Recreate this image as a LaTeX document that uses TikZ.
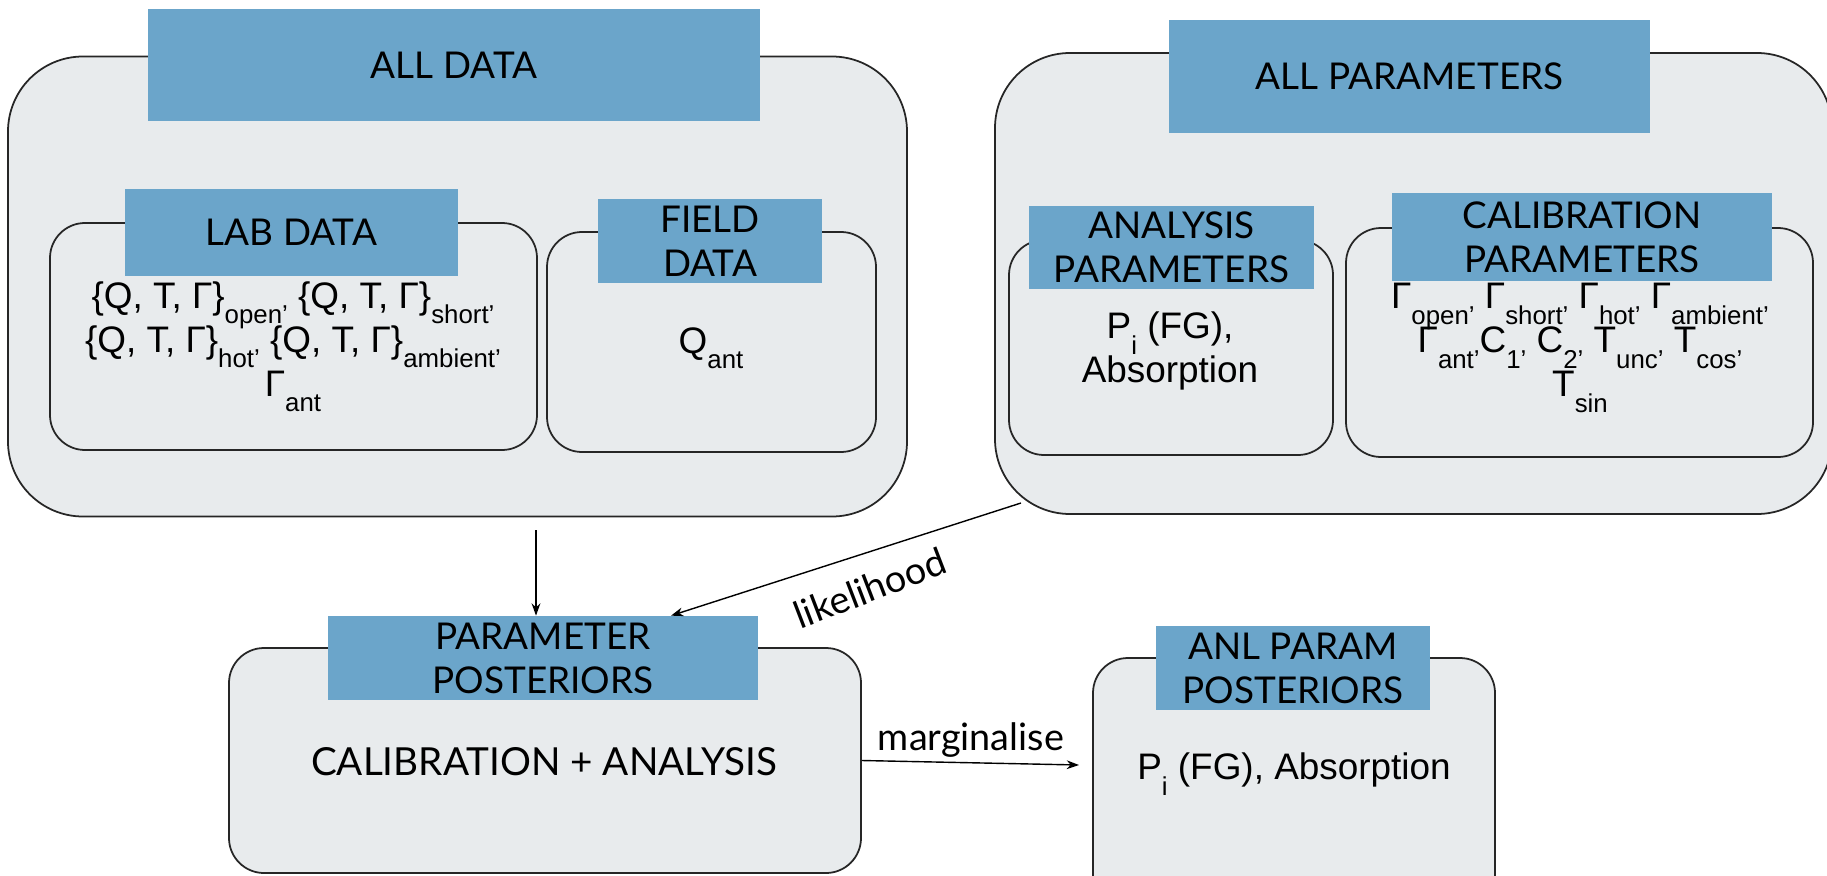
\documentclass[tikz,border=0pt]{standalone}
\usepackage{fontspec}
\setmainfont{Lato}
\newfontfamily\bodyfont{Liberation Sans}
\usepackage{graphicx}
\usetikzlibrary{arrows.meta,calc}
\definecolor{headblue}{HTML}{6BA5CA}
\definecolor{boxgrey}{HTML}{E8EBED}
\newcommand{\low}[1]{\raisebox{-0.42em}[0pt][0pt]{\scalebox{0.7}{#1}}}

\begin{document}
\begin{tikzpicture}[
  >={Stealth[length=7pt,width=5pt]},
  group/.style={draw=black!85, fill=boxgrey, line width=1pt, rounded corners=1.5cm, inner sep=0pt},
  panel/.style={draw=black!85, fill=boxgrey, line width=1pt, rounded corners=0.7cm, inner sep=0pt},
  head/.style={fill=headblue, align=center, inner sep=0pt, font=\fontsize{21}{25}\selectfont},
  body/.style={align=center, inner sep=0pt, font=\bodyfont\fontsize{21}{25}\selectfont},
  tag/.style={inner sep=0pt, font=\fontsize{21.5}{25}\selectfont}
]
\path[use as bounding box] (0,0) rectangle (36.54,-17.52);
\clip (0,0) rectangle (36.54,-17.52);

\node[group, minimum width=17.98cm, minimum height=9.20cm] (alldata) at (9.15,-5.73) {};
\node[group, minimum width=16.74cm, minimum height=9.22cm] (allpar) at (28.27,-5.67) {};
\node[panel, minimum width=9.74cm, minimum height=4.54cm] (lab) at (5.87,-6.73) {};
\node[panel, minimum width=6.58cm, minimum height=4.40cm] (field) at (14.23,-6.84) {};
\node[panel, minimum width=6.48cm, minimum height=4.30cm] (ana) at (23.42,-6.95) {};
\node[panel, minimum width=9.34cm, minimum height=4.58cm] (cal) at (31.59,-6.85) {};
\node[panel, minimum width=12.64cm, minimum height=4.50cm] (post) at (10.90,-15.21) {};
\node[panel, minimum width=8.04cm, minimum height=5.44cm] (anl) at (25.88,-15.88) {};

\node[head, minimum width=12.24cm, minimum height=2.24cm] (alldatahead) at (9.08,-1.30) {ALL DATA};
\node[head, minimum width=9.62cm, minimum height=2.26cm] (allparhead) at (28.19,-1.53) {ALL PARAMETERS};
\node[head, minimum width=6.66cm, minimum height=1.74cm] (labhead) at (5.83,-4.65) {LAB DATA};
\node[head, minimum width=4.48cm, minimum height=1.68cm] (fieldhead) at (14.20,-4.82) {FIELD\\DATA};
\node[head, minimum width=5.70cm, minimum height=1.66cm] (anahead) at (23.43,-4.95) {ANALYSIS\\PARAMETERS};
\node[head, minimum width=7.60cm, minimum height=1.76cm] (calhead) at (31.64,-4.74) {CALIBRATION\\PARAMETERS};
\node[head, minimum width=8.60cm, minimum height=1.68cm] (posthead) at (10.86,-13.16) {PARAMETER\\POSTERIORS};
\node[head, minimum width=5.48cm, minimum height=1.68cm] (anlhead) at (25.86,-13.36) {ANL PARAM\\POSTERIORS};

\node[body] (labtext) at (5.86,-6.78) {\{Q, T, Γ\}\low{open’} \{Q, T, Γ\}\low{short’}\\
  \{Q, T, Γ\}\low{hot’} \{Q, T, Γ\}\low{ambient’}\\
  Γ\low{ant}};
\node[body] (fieldtext) at (14.22,-6.88) {Q\low{ant}};
\node[body] (anatext) at (23.40,-7.02) {P\low{i} (FG),\\Absorption};
\node[body] (caltext) at (31.60,-6.80) {Γ\low{open’} Γ\low{short’} Γ\low{hot’} Γ\low{ambient’}\\
  Γ\low{ant’}C\low{1’} C\low{2’} T\low{unc’} T\low{cos’}\\
  T\low{sin}};
\node[tag, font=\fontsize{22}{25}\selectfont] (posttext) at (10.88,-15.24) {CALIBRATION + ANALYSIS};
\node[body] (anltext) at (25.88,-15.40) {P\low{i} (FG), Absorption};

\coordinate (datafoot) at (10.72,-10.60);
\coordinate (likefoot) at (20.42,-10.06);
\coordinate (margend) at (21.58,-15.30);
\draw[->, line width=0.8pt] (datafoot) -- (datafoot |- posthead.north);
\draw[->, line width=0.8pt] (likefoot) -- ($(posthead.north)+(2.56,0)$);
\draw[->, line width=0.8pt] (post.east) -- (margend);
\node[tag, rotate=21] (likelab) at (17.40,-11.76) {likelihood};
\node[tag] (marglab) at (19.42,-14.80) {marginalise};
\end{tikzpicture}
\end{document}
